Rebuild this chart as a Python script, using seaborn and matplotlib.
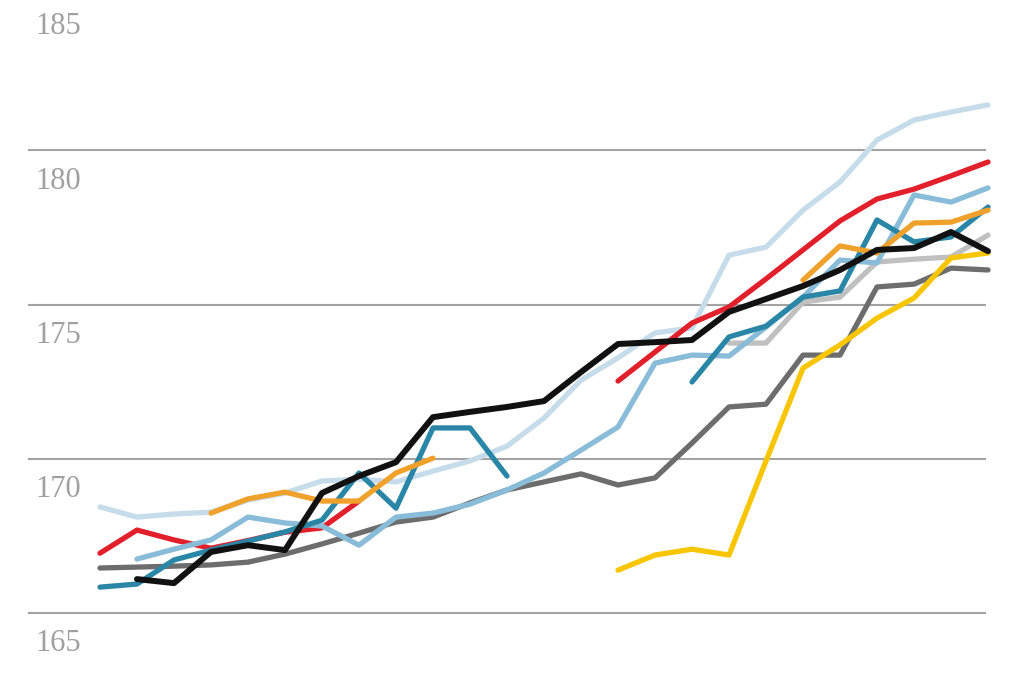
import pandas as pd
import seaborn as sns
import matplotlib.pyplot as plt

# birth cohorts, one point every five years
years = list(range(1870, 1995, 5))
N = None

pale_blue = [168.44, 168.11, 168.21, 168.27, 168.66, 168.89, 169.28, 169.34, 169.25, 169.60,
             169.93, 170.41, 171.32, 172.55, 173.27, 174.08, 174.24, 176.60, 176.86, 178.06,
             178.97, 180.33, 180.98, 181.24, 181.47]
dark_grey = [166.46, 166.49, 166.52, 166.56, 166.65, 166.91, 167.24, 167.59, 167.95, 168.11,
             168.57, 168.99, 169.25, 169.51, 169.15, 169.38, 170.51, 171.68, 171.77, 173.36,
             173.36, 175.57, 175.66, 176.18, 176.12]
light_grey = [N] * 17 + [173.75, 173.75, 175.08, 175.24, 176.38, 176.47, 176.54, 177.25]
red = [166.94, 167.69, 167.37, 167.10, 167.35, 167.62, 167.76, 168.63] + [N] * 6 + \
      [172.52, 173.46, 174.40, 174.92, 175.83, 176.77, 177.71, 178.42, 178.74, 179.17, 179.62]
mid_blue = [N, 166.75, 167.07, 167.37, 168.11, 167.92, 167.82, 167.20, 168.11, 168.24,
            168.53, 168.99, 169.54, 170.28, 171.03, 173.10, 173.36, 173.33, 174.27, 175.24,
            176.44, 176.35, 178.55, 178.32, 178.78]
teal = [165.84, 165.94, 166.72, 167.04, 167.33, 167.63, 168.01, 169.54, 168.40, 171.00,
        171.00, 169.44] + [N] * 4 + \
       [172.49, 173.95, 174.30, 175.24, 175.44, 177.74, 177.03, 177.19, 178.16]
orange = [N] * 3 + [168.24, 168.70, 168.92, 168.63, 168.63, 169.54, 170.02] + [N] * 9 + \
         [175.79, 176.90, 176.67, 177.64, 177.67, 178.06]
yellow = [N] * 14 + [166.39, 166.88, 167.07, 166.88, 169.93, 172.94, 173.69, 174.56, 175.21,
                     176.51, 176.67]
black = [N, 166.10, 165.97, 166.98, 167.20, 167.04, 168.89, 169.44, 169.89, 171.35,
         171.52, 171.68, 171.87, 172.81, 173.72, 173.78, 173.85, 174.76, 175.18, 175.60,
         176.12, 176.77, 176.83, 177.35, 176.73]

series = [
    ("pale blue", pale_blue, "#c6dcea"),
    ("dark grey", dark_grey, "#6d6d6d"),
    ("light grey", light_grey, "#c0c0c0"),
    ("red", red, "#e2202c"),
    ("mid blue", mid_blue, "#88bcd8"),
    ("teal", teal, "#2a86a6"),
    ("orange", orange, "#f0a12c"),
    ("yellow", yellow, "#f7c600"),
    ("black", black, "#111111"),
]

ticks = [165, 170, 175, 180, 185]

fig = plt.figure(figsize=(10.2, 6.8), dpi=100)
ax = fig.add_axes([0, 0, 1, 1])

# gridlines
for t in ticks[:-1]:
    ax.axhline(t, xmin=0.028, xmax=0.966, color="#a3a3a3", lw=1.5, zorder=1)

rows = []
for name, vals, col in series:
    seg = 0
    prev = None
    for y, v in zip(years, vals):
        if v is None:
            prev = None
            continue
        if prev is None:
            seg += 1
        rows.append({"series": name, "segment": seg, "year": y, "height": v})
        prev = v
df = pd.DataFrame(rows)

for name, vals, col in series:
    d = df[df["series"] == name]
    w = 4.3 if name == "black" else 3.8
    sns.lineplot(data=d, x="year", y="height", units="segment", estimator=None,
                 color=col, lw=w, solid_capstyle="round", ax=ax, zorder=3)

for t in ticks:
    ax.text(1861.3, t - 1.0, str(t), ha="left", va="center", fontsize=22,
            color="#a0a0a0", family=["Liberation Serif", "DejaVu Serif"])

ax.set_xlim(1856.49, 1994.32)
ax.set_ylim(162.83, 184.87)
ax.axis("off")

fig.savefig("out.png", dpi=100)
